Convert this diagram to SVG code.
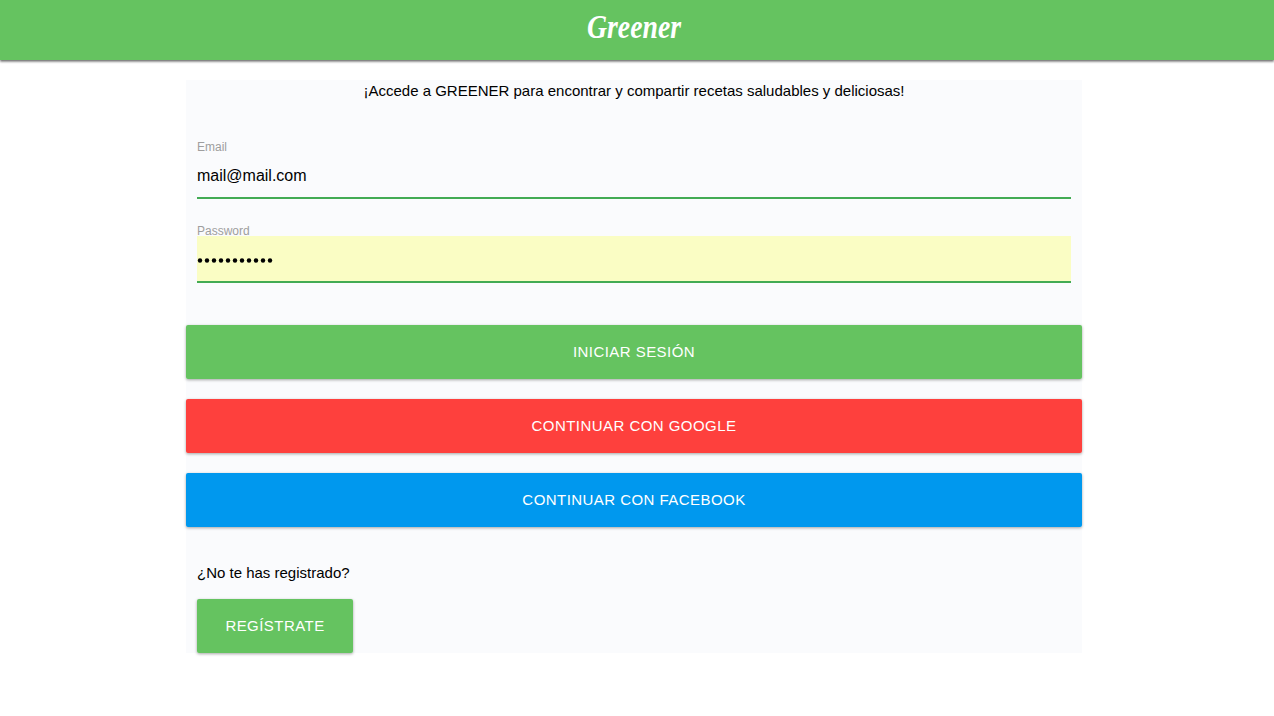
<svg xmlns="http://www.w3.org/2000/svg" width="1274" height="716" viewBox="0 0 1274 716">
<style>
text{font-family:"Liberation Sans",Arial,sans-serif}
.body{font-size:15px;fill:#000}
.lab{font-size:12px;fill:#9e9e9e}
.btn{font-size:15px;fill:#fff;letter-spacing:.45px;text-anchor:middle}
.b{filter:url(#sh)}
.ul{fill:#43ab54}
</style>
<defs>
<filter id="sh" x="-5%" y="-20%" width="110%" height="150%"><feDropShadow dx="0" dy="1" stdDeviation="1.5" flood-color="#000" flood-opacity=".35"/></filter>
<filter id="hs" x="-5%" y="-20%" width="110%" height="150%"><feDropShadow dx="0" dy="1.500" stdDeviation="1.2" flood-color="#000" flood-opacity=".6"/></filter>
</defs>
<rect width="1274" height="716" fill="#fff"/>
<g id="header"><rect x="0" y="0" width="1274" height="60" fill="#65c361" filter="url(#hs)"/>
<text x="587" y="38" textLength="94" lengthAdjust="spacingAndGlyphs" style="font-family:'Liberation Serif',serif;font-style:italic;font-weight:bold;font-size:33px" fill="#fff">Greener</text></g>
<g id="panel"><rect x="186" y="80" width="896" height="573" fill="#fafbfd"/>
<text class="body" x="634" y="96" text-anchor="middle">¡Accede a GREENER para encontrar y compartir recetas saludables y deliciosas!</text></g>
<g id="email"><text class="lab" x="197" y="151">Email</text>
<text x="197" y="181" style="font-size:16px" fill="#000">mail@mail.com</text>
<rect class="ul" x="197" y="197" width="874" height="2"/></g>
<g id="password"><text class="lab" x="197" y="235">Password</text>
<rect x="197" y="236" width="874" height="45" fill="#fafdc4"/>
<g fill="#000"><circle cx="200" cy="260.500" r="2.200"/><circle cx="207" cy="260.500" r="2.200"/><circle cx="214" cy="260.500" r="2.200"/><circle cx="221" cy="260.500" r="2.200"/><circle cx="228" cy="260.500" r="2.200"/><circle cx="235" cy="260.500" r="2.200"/><circle cx="242" cy="260.500" r="2.200"/><circle cx="249" cy="260.500" r="2.200"/><circle cx="256" cy="260.500" r="2.200"/><circle cx="263" cy="260.500" r="2.200"/><circle cx="270" cy="260.500" r="2.200"/></g>
<rect class="ul" x="197" y="281" width="874" height="2"/></g>
<g id="btn-login"><rect class="b" x="186" y="325" width="896" height="54" rx="2" fill="#65c361"/><text class="btn" x="634" y="357">INICIAR SESIÓN</text></g>
<g id="btn-google"><rect class="b" x="186" y="399" width="896" height="54" rx="2" fill="#fe413e"/><text class="btn" x="634" y="431">CONTINUAR CON GOOGLE</text></g>
<g id="btn-facebook"><rect class="b" x="186" y="473" width="896" height="54" rx="2" fill="#0398ee"/><text class="btn" x="634" y="505">CONTINUAR CON FACEBOOK</text></g>
<g id="signup"><text class="body" x="197" y="578">¿No te has registrado?</text>
<rect class="b" x="197" y="599" width="156" height="54" rx="2" fill="#65c361"/><text class="btn" x="275" y="631">REGÍSTRATE</text></g>
</svg>
